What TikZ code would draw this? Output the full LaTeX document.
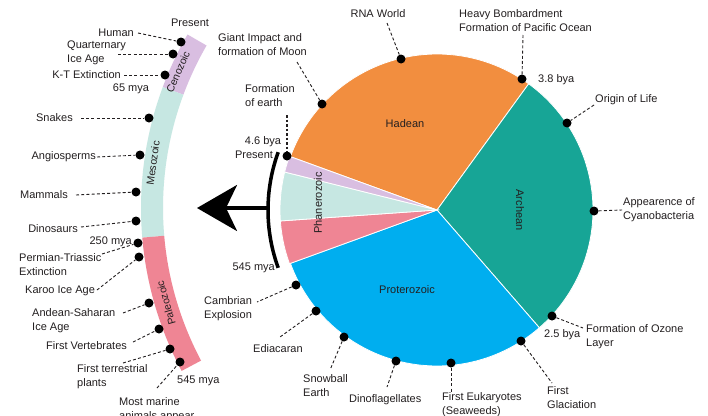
\documentclass[tikz,border=0pt]{standalone}
\usepackage{fontspec}
\setmainfont{Liberation Sans}
\usetikzlibrary{arrows.meta}
\definecolor{hadean}{HTML}{F28E3F}
\definecolor{archean}{HTML}{17A596}
\definecolor{protero}{HTML}{00AEEF}
\definecolor{paleo}{HTML}{EF8594}
\definecolor{meso}{HTML}{C6E7E2}
\definecolor{ceno}{HTML}{D9BEE1}
\definecolor{ink}{HTML}{231F20}
\begin{document}
\begin{tikzpicture}[x=1pt,y=-1pt,
  font=\fontsize{11}{14}\selectfont,
  lbl/.style={inner sep=0pt, align=left, text=ink},
  era/.style={inner sep=0pt, text=ink, font=\fontsize{10.5}{12}\selectfont},
  dot/.style={circle, fill=black, inner sep=0pt, minimum size=9pt},
  conn/.style={draw=ink, line width=0.9pt, dash pattern=on 3pt off 2.2pt},
  wedgeline/.style={draw=white, line width=0.8pt}]

\useasboundingbox (0,0) rectangle (708,415);
\clip (0,0) rectangle (708,415);
\fill[white] (0,0) rectangle (708,415);

% ---------------- pie ----------------
\coordinate (C) at (437,210);
\filldraw[fill=hadean, wedgeline] (C) -- plot[domain=-160:-54, samples=60] ({437+156*cos(\x)},{210+156*sin(\x)}) -- cycle;
\filldraw[fill=archean, wedgeline] (C) -- plot[domain=-54:49, samples=60] ({437+156*cos(\x)},{210+156*sin(\x)}) -- cycle;
\filldraw[fill=protero, wedgeline] (C) -- plot[domain=49:160, samples=60] ({437+156*cos(\x)},{210+156*sin(\x)}) -- cycle;
\filldraw[fill=paleo, wedgeline] (C) -- plot[domain=160:176, samples=20] ({437+157*cos(\x)},{210+157*sin(\x)}) -- cycle;
\filldraw[fill=meso, wedgeline] (C) -- plot[domain=176:194, samples=20] ({437+157*cos(\x)},{210+157*sin(\x)}) -- cycle;
\filldraw[fill=ceno, wedgeline] (C) -- plot[domain=194:200, samples=10] ({437+157*cos(\x)},{210+157*sin(\x)}) -- cycle;

\node[era, font=\fontsize{11}{13}\selectfont] (had) at (405,124) {Hadean};
\node[era, font=\fontsize{11}{13}\selectfont, rotate=-90] (arch) at (520,210) {Archean};
\node[era, font=\fontsize{11}{13}\selectfont] (prot) at (407,290) {Proterozoic};
\node[era, font=\fontsize{11}{13}\selectfont, rotate=90] (phan) at (318,203) {Phanerozoic};

% big bracket arc and arrow
\draw[line width=3.5pt, black] plot[domain=160:200, samples=40] ({437+169*cos(\x)},{210+169*sin(\x)});
\coordinate (arcmid) at (268,208);
\coordinate (arrowtip) at (197,208);
\draw[line width=3.5pt, black, -{Stealth[length=40pt, width=46pt, inset=11pt]}] (arcmid) -- (arrowtip);

% ---------------- left band ----------------
\fill[ceno] plot[domain=-150:-159.6, samples=20] ({488+347*cos(\x)},{208+347*sin(\x)}) -- plot[domain=-159.6:-150, samples=20] ({488+325*cos(\x)},{208+325*sin(\x)}) -- cycle;
\fill[meso] plot[domain=-159.6:-184.9, samples=40] ({488+347*cos(\x)},{208+347*sin(\x)}) -- plot[domain=-184.9:-159.6, samples=40] ({488+325*cos(\x)},{208+325*sin(\x)}) -- cycle;
\fill[paleo] plot[domain=-184.9:-208, samples=40] ({488+347*cos(\x)},{208+347*sin(\x)}) -- plot[domain=-208:-184.9, samples=40] ({488+325*cos(\x)},{208+325*sin(\x)}) -- cycle;

\node[era, rotate=66] (cenol) at (178,72) {Cenozoic};
\node[era, rotate=82] (mesol) at (153,163) {Mesozoic};
\node[era, rotate=106] (paleol) at (166,303) {Paleozoic};

% left labels
\node[lbl] (present1) at (190,23) {Present};
\node[lbl, anchor=east] (human) at (134,33) {Human};
\node[lbl, anchor=west] (quat) at (67,53) {Quarternary\\Ice Age};
\node[lbl, anchor=east] (kt) at (121,75) {K-T Extinction};
\node[lbl] (mya65) at (131,89) {65 mya};
\node[lbl, anchor=east] (snakes) at (73,118) {Snakes};
\node[lbl, anchor=east] (angio) at (96,157) {Angiosperms};
\node[lbl, anchor=east] (mammals) at (68,195) {Mammals};
\node[lbl, anchor=east] (dino) at (78,229) {Dinosaurs};
\node[lbl, anchor=east] (mya250) at (132,242) {250 mya};
\node[lbl, anchor=west] (permian) at (19,264.5) {Permian-Triassic\\Extinction};
\node[lbl, anchor=west] (karoo) at (25,291) {Karoo Ice Age};
\node[lbl, anchor=west] (andean) at (32,320.5) {Andean-Saharan\\Ice Age};
\node[lbl, anchor=west] (vert) at (46,346) {First Vertebrates};
\node[lbl, anchor=west] (terr) at (77,376.5) {First terrestrial\\plants};
\node[lbl, anchor=west] (mya545a) at (177,381) {545 mya};
\node[lbl, anchor=west] (marine) at (119,409.5) {Most marine\\animals appear};

\coordinate (quatc) at (118,54);
\coordinate (permc) at (102,254);
\coordinate (karooc) at (97,290);
\coordinate (andc) at (123,313);
\coordinate (vertc) at (133,342);
\coordinate (terrc) at (123,363);
\coordinate (marc) at (157,388);

\node[dot] (d1) at (181,42) {};
\node[dot] (d2) at (173,54) {};
\node[dot] (d3) at (165,75) {};
\node[dot] (d4) at (149,118) {};
\node[dot] (d5) at (140,155) {};
\node[dot] (d6) at (136,192) {};
\node[dot] (d7) at (136,221) {};
\node[dot] (d8) at (138,243) {};
\node[dot] (d9) at (139,257) {};
\node[dot] (d10) at (149,303) {};
\node[dot] (d11) at (159,329) {};
\node[dot] (d12) at (170,349) {};
\node[dot] (d13) at (180,362) {};

\draw[conn] ([xshift=4pt]human.east) -- (d1);
\draw[conn] (quatc) -- (d2);
\draw[conn] ([xshift=3pt]kt.east) -- (d3);
\draw[conn] ([xshift=8pt]snakes.east) -- (d4);
\draw[conn] ([xshift=1pt]angio.east) -- (d5);
\draw[conn] ([xshift=8pt]mammals.east) -- (d6);
\draw[conn] ([xshift=3pt,yshift=2pt]dino.east) -- (d7);
\draw[conn] (permc) -- (d8);
\draw[conn] (karooc) -- (d9);
\draw[conn] (andc) -- (d10);
\draw[conn] (vertc) -- (d11);
\draw[conn] (terrc) -- (d12);
\draw[conn] (marc) -- (d13);

% ---------------- pie labels ----------------
\node[lbl, anchor=west] (formearth) at (245,96) {Formation\\of earth};
\node[lbl] (bya46) at (263,142) {4.6 bya};
\node[lbl] (present2) at (254,155) {Present};
\node[lbl, anchor=west] (giant) at (218,45) {Giant Impact and\\formation of Moon};
\node[lbl] (rna) at (378,14) {RNA World};
\node[lbl, anchor=west] (heavy) at (459,21) {Heavy Bombardment\\Formation of Pacific Ocean};
\node[lbl, anchor=west] (bya38) at (538,80) {3.8 bya};
\node[lbl, anchor=west] (origin) at (595,100) {Origin of Life};
\node[lbl, anchor=west] (cyano) at (623,210) {Appearence of\\Cyanobacteria};
\node[lbl, anchor=west] (bya25) at (544,335) {2.5 bya};
\node[lbl, anchor=west] (ozone) at (586,336.5) {Formation of Ozone\\Layer};
\node[lbl, anchor=west] (glac) at (547,398) {First\\Glaciation};
\node[lbl, anchor=west] (euk) at (442,404.5) {First Eukaryotes\\(Seaweeds)};
\node[lbl, anchor=west] (dinof) at (349,400) {Dinoflagellates};
\node[lbl, anchor=west] (snow) at (303,386) {Snowball\\Earth};
\node[lbl, anchor=west] (edia) at (253,349) {Ediacaran};
\node[lbl, anchor=west] (camb) at (204,308.5) {Cambrian\\Explosion};
\node[lbl, anchor=east] (mya545b) at (275,268) {545 mya};

\coordinate (earthc) at (287,115);
\coordinate (giantc) at (297,62);
\coordinate (rnac) at (387,23);
\coordinate (heavyc) at (523,35);
\coordinate (originc) at (594,105);
\coordinate (ozonec) at (583,328);
\coordinate (glacc) at (552,383);
\coordinate (eukc) at (451,392);
\coordinate (dinofc) at (387,387);
\coordinate (snowc) at (330,370);
\coordinate (ediac) at (280,337);
\coordinate (cambc) at (257,302);

\node[dot] (p0) at (287,156) {};
\node[dot] (p1) at (322,104) {};
\node[dot] (p2) at (401,59) {};
\node[dot] (p3) at (522,79) {};
\node[dot] (p4) at (567,123) {};
\node[dot] (p5) at (594,211) {};
\node[dot] (p6) at (552,316) {};
\node[dot] (p7) at (521,341) {};
\node[dot] (p8) at (451,363) {};
\node[dot] (p9) at (396,361) {};
\node[dot] (p10) at (344,337) {};
\node[dot] (p11) at (316,311) {};
\node[dot] (p12) at (296,285) {};

\draw[draw=ink, line width=1.7pt, dash pattern=on 2.5pt off 2pt] (earthc) -- (p0);
\draw[conn] (giantc) -- (p1);
\draw[conn] (rnac) -- (p2);
\draw[conn] (heavyc) -- (p3);
\draw[conn] (originc) -- (p4);
\draw[conn] (p5) -- ([xshift=-1pt]cyano.west);
\draw[conn] (p6) -- (ozonec);
\draw[conn] (p7) -- (glacc);
\draw[conn] (p8) -- (eukc);
\draw[conn] (p9) -- (dinofc);
\draw[conn] (p10) -- (snowc);
\draw[conn] (p11) -- (ediac);
\draw[conn] (p12) -- (cambc);
\end{tikzpicture}
\end{document}
